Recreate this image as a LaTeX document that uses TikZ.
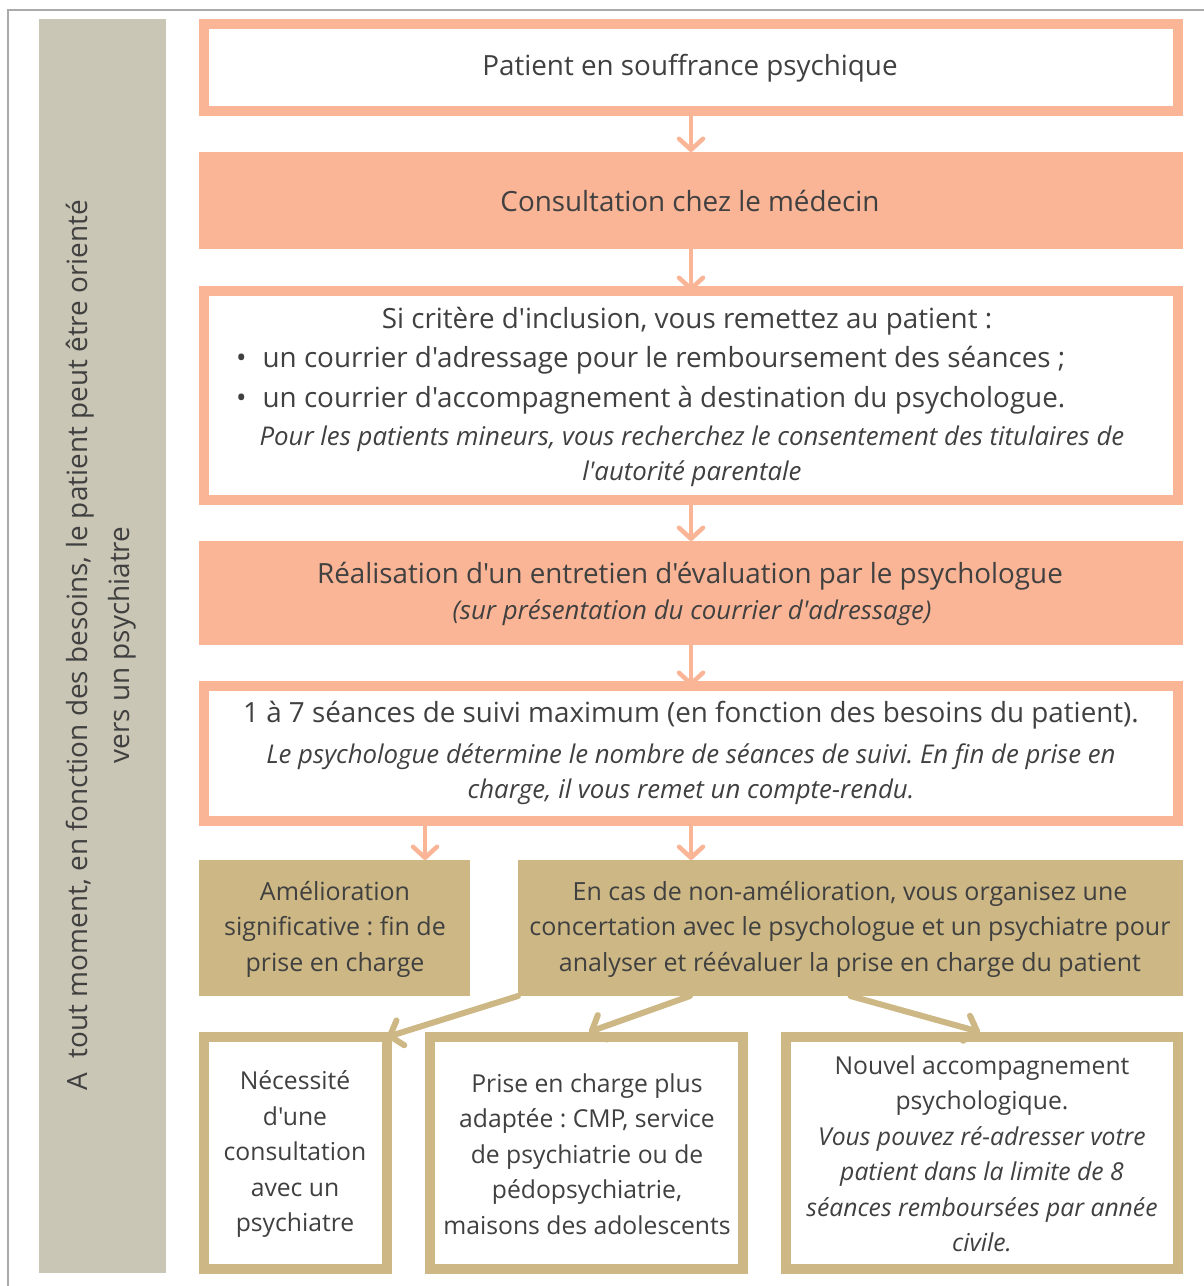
\documentclass[tikz,border=0pt]{standalone}
\usepackage{fontspec}
\setmainfont{Open Sans}[Ligatures=TeXReset]
\usetikzlibrary{arrows.meta}
\definecolor{salmonc}{HTML}{F9B596}
\definecolor{tanc}{HTML}{CDB885}
\definecolor{sidec}{HTML}{CAC6B5}
\definecolor{txtc}{HTML}{404040}
\definecolor{framec}{HTML}{AAAAAA}
\frenchspacing
\tikzset{
  sline/.style={draw=salmonc, line width=10pt, fill=white, inner sep=0pt, outer sep=0pt},
  sfill/.style={fill=salmonc, inner sep=0pt, outer sep=0pt},
  tfill/.style={fill=tanc, inner sep=0pt, outer sep=0pt},
  tline/.style={draw=tanc, line width=10pt, fill=white, inner sep=0pt, outer sep=0pt},
  txt/.style={text=txtc, inner sep=0pt, font=\fontsize{27.8}{40}\selectfont},
  itxt/.style={text=txtc, inner sep=0pt, font=\fontsize{25.8}{35}\selectfont\itshape},
  mtxt/.style={text=txtc, inner sep=0pt, font=\fontsize{25}{35.5}\selectfont},
  stxt/.style={text=txtc, inner sep=0pt, font=\fontsize{24.7}{35.5}\selectfont},
  sarrow/.style={draw=salmonc, line width=4.5pt, line cap=round, -{Straight Barb[length=11pt,width=24pt,line cap=round,line join=round]}},
  tarrow/.style={draw=tanc, line width=6pt, line cap=round, -{Straight Barb[length=11pt,width=26pt,line cap=round,line join=round]}},
}
\begin{document}
\begin{tikzpicture}[x=1pt,y=-1pt]
\useasboundingbox (0,0) rectangle (1204,1286);
\fill[white] (0,0) rectangle (1204,1286);
\coordinate (fbl) at (8,1286);
\coordinate (ftl) at (8,10);
\coordinate (ftr) at (1204,10);
\draw[framec, line width=1.5pt] (fbl) -- (ftl) -- (ftr);

% sidebar
\node[fill=sidec, minimum width=127pt, minimum height=1254pt, inner sep=0pt] (side) at (102.5,646) {};
\node[txt, rotate=90, align=center, font=\fontsize{27.9}{42}\selectfont] (sidetxt) at (101,645)
  {A\ \ tout moment, en fonction des besoins, le patient peut être orienté\\vers un psychiatre};

% boxes
\node[sline, minimum width=974pt, minimum height=87pt] (b1) at (691,67.5) {};
\node[sfill, minimum width=984pt, minimum height=97pt] (b2) at (691,200.5) {};
\node[sline, minimum width=974pt, minimum height=209pt] (b3) at (691,395.5) {};
\node[sfill, minimum width=984pt, minimum height=104pt] (b4) at (691,593) {};
\node[sline, minimum width=974pt, minimum height=135pt] (b5) at (691,753.5) {};
\node[tfill, minimum width=271pt, minimum height=136pt] (b6a) at (334.5,928) {};
\node[tfill, minimum width=665pt, minimum height=136pt] (b6b) at (850.5,928) {};
\node[tline, minimum width=183pt, minimum height=232pt] (b7a) at (295.5,1153) {};
\node[tline, minimum width=313pt, minimum height=232pt] (b7b) at (586.5,1153) {};
\node[tline, minimum width=392pt, minimum height=232pt] (b7c) at (982,1153) {};

% texts
\node[txt] (t1) at (690,68) {Patient en souffrance psychique};
\node[txt] (t2) at (690,201) {Consultation chez le médecin};
\node[txt] (t3a) at (687,321) {Si critère d'inclusion, vous remettez au patient :};
\node[txt, anchor=west, align=left] (t3b) at (236,380.5)
  {\textbullet\hspace{16pt}un courrier d'adressage pour le remboursement des séances ;\\
   \textbullet\hspace{16pt}un courrier d'accompagnement à destination du psychologue.};
\node[itxt, align=center] (t3c) at (692,456)
  {Pour les patients mineurs, vous recherchez le consentement des titulaires de\\l'autorité parentale};
\node[txt] (t4a) at (690,576) {Réalisation d'un entretien d'évaluation par le psychologue};
\node[itxt] (t4b) at (692,613) {(sur présentation du courrier d'adressage)};
\node[txt] (t5a) at (691,715) {1 à 7 séances de suivi maximum (en fonction des besoins du patient).};
\node[itxt, align=center] (t5b) at (691,774)
  {Le psychologue détermine le nombre de séances de suivi. En fin de prise en\\charge, il vous remet un compte-rendu.};
\node[mtxt, align=center] (t6a) at (335,929) {Amélioration\\significative : fin de\\prise en charge};
\node[mtxt, align=center] (t6b) at (850,929)
  {En cas de non-amélioration, vous organisez une\\concertation avec le psychologue et un psychiatre pour\\analyser et réévaluer la prise en charge du patient};
\node[stxt, align=center] (t7a) at (295,1154) {Nécessité\\d'une\\consultation\\avec un\\psychiatre};
\node[stxt, align=center] (t7b) at (587,1154) {Prise en charge plus\\adaptée : CMP, service\\de psychiatrie ou de\\pédopsychiatrie,\\maisons des adolescents};
\node[stxt, align=center] (t7c) at (982,1154) {Nouvel accompagnement\\psychologique.\\{\itshape Vous pouvez ré-adresser votre}\\{\itshape patient dans la limite de 8}\\{\itshape séances remboursées par année}\\{\itshape civile.}};

% connectors
\draw[sarrow] (b1.south) -- (b2.north);
\draw[sarrow] (b2.south) -- (b3.north);
\draw[sarrow] (b3.south) -- (b4.north);
\draw[sarrow] (b4.south) -- (b5.north);
\coordinate (a6a) at (425,826);
\draw[sarrow] (b5.south -| a6a) -- (b6a.north -| a6a);
\draw[sarrow] (b5.south) -- (b6b.north -| b5.south);
\coordinate (s2) at (690,996);
\coordinate (e2) at (589,1032);
\coordinate (e3) at (980,1032);
\draw[tarrow] (b6b.south west) -- (b7a.north east);
\draw[tarrow] (s2) -- (e2);
\draw[tarrow] (b6b.south) -- (e3);
\end{tikzpicture}
\end{document}
